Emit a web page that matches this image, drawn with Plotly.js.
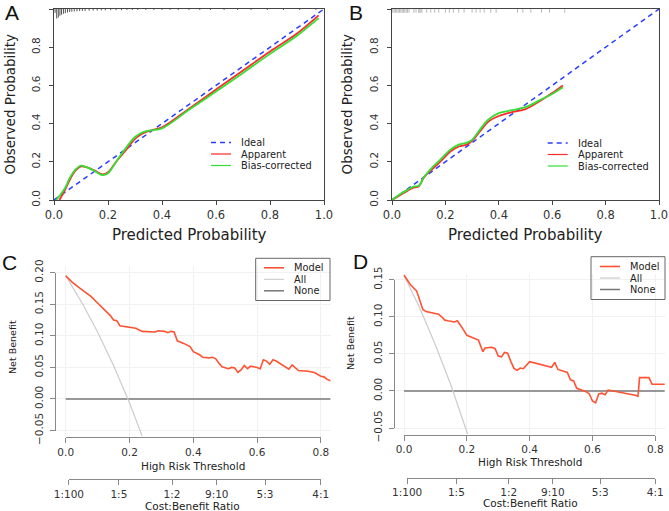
<!DOCTYPE html>
<html>
<head>
<meta charset="utf-8">
<script src="https://cdn.plot.ly/plotly-3.0.1.min.js"></script>
<style>
  html, body { margin: 0; padding: 0; background: #fff; }
  #chart { width: 669px; height: 511px; }
</style>
</head>
<body>
<div id="chart"></div>
<script>
// ---- Calibration, training set (A) ----
const idealX = [0, 1];
const idealY = [0, 1];
const calA_appX = [0.02, 0.04, 0.06, 0.08, 0.10, 0.12, 0.15, 0.18, 0.20, 0.23, 0.26, 0.30, 0.33, 0.36, 0.40, 0.50, 0.60, 0.70, 0.80, 0.90, 0.98];
const calA_appY = [0.0, 0.05, 0.11, 0.155, 0.176, 0.172, 0.155, 0.134, 0.145, 0.2, 0.25, 0.32, 0.35, 0.365, 0.38, 0.478, 0.578, 0.678, 0.778, 0.872, 0.967];
const calA_bcX = [0.008, 0.04, 0.06, 0.08, 0.10, 0.12, 0.15, 0.18, 0.20, 0.23, 0.26, 0.30, 0.33, 0.36, 0.40, 0.50, 0.60, 0.70, 0.80, 0.90, 0.98];
const calA_bcY = [0.0, 0.06, 0.12, 0.16, 0.18, 0.172, 0.152, 0.13, 0.14, 0.2, 0.26, 0.33, 0.355, 0.365, 0.375, 0.472, 0.568, 0.665, 0.765, 0.86, 0.952];
// distribution of predicted probabilities (spike positions and lengths)
const rugA_p = [0.004, 0.010, 0.016, 0.022, 0.028, 0.035, 0.042, 0.05, 0.058, 0.066, 0.075, 0.085, 0.095, 0.105, 0.115, 0.13, 0.145, 0.16, 0.175, 0.19, 0.21, 0.23, 0.25, 0.27, 0.29, 0.31, 0.34, 0.37, 0.40, 0.43, 0.46, 0.5, 0.54, 0.58, 0.63, 0.68, 0.73, 0.79, 0.85, 0.91, 0.97];
const rugA_h = [0.02, 0.05, 0.045, 0.035, 0.03, 0.025, 0.022, 0.018, 0.016, 0.014, 0.013, 0.012, 0.011, 0.01, 0.01, 0.009, 0.008, 0.008, 0.007, 0.007, 0.006, 0.006, 0.006, 0.005, 0.005, 0.005, 0.005, 0.005, 0.005, 0.005, 0.005, 0.005, 0.005, 0.005, 0.005, 0.005, 0.005, 0.005, 0.005, 0.005, 0.005];

// ---- Calibration, validation set (B) ----
const calB_X = [0.0, 0.03, 0.06, 0.08, 0.10, 0.12, 0.15, 0.18, 0.22, 0.25, 0.28, 0.30, 0.33, 0.36, 0.40, 0.45, 0.50, 0.55, 0.60, 0.64];
const calB_appY = [0.0, 0.025, 0.05, 0.065, 0.07, 0.12, 0.16, 0.2, 0.255, 0.28, 0.29, 0.31, 0.36, 0.41, 0.44, 0.46, 0.476, 0.515, 0.56, 0.6];
const calB_bcY = [0.0, 0.03, 0.055, 0.07, 0.075, 0.12, 0.17, 0.21, 0.265, 0.29, 0.3, 0.315, 0.37, 0.42, 0.455, 0.47, 0.486, 0.52, 0.555, 0.59];
const rugB_p = [0.003, 0.008, 0.013, 0.018, 0.023, 0.028, 0.033, 0.038, 0.043, 0.048, 0.053, 0.058, 0.064, 0.082, 0.09, 0.1, 0.104, 0.108, 0.112, 0.13, 0.145, 0.16, 0.175, 0.2, 0.215, 0.23, 0.25, 0.27, 0.3, 0.315, 0.33, 0.345, 0.37, 0.39, 0.47, 0.49, 0.52, 0.56, 0.59, 0.647];
const rugB_h = [0.02, 0.02, 0.02, 0.02, 0.02, 0.02, 0.02, 0.02, 0.02, 0.02, 0.02, 0.02, 0.02, 0.02, 0.02, 0.02, 0.02, 0.02, 0.02, 0.02, 0.02, 0.02, 0.02, 0.02, 0.02, 0.02, 0.02, 0.02, 0.02, 0.02, 0.02, 0.02, 0.02, 0.02, 0.02, 0.02, 0.02, 0.02, 0.02, 0.02];

// ---- Decision curves (C: training, D: validation) ----
const thrC = [0, 0.01, 0.02, 0.04, 0.05, 0.06, 0.08, 0.10, 0.12, 0.14, 0.15, 0.16, 0.17, 0.18, 0.20, 0.22, 0.24, 0.26, 0.28, 0.29, 0.31, 0.32, 0.33, 0.34, 0.35, 0.37, 0.39, 0.40, 0.42, 0.43, 0.45, 0.46, 0.47, 0.48, 0.49, 0.51, 0.52, 0.53, 0.54, 0.55, 0.56, 0.57, 0.58, 0.60, 0.61, 0.62, 0.63, 0.64, 0.65, 0.66, 0.68, 0.69, 0.70, 0.71, 0.72, 0.73, 0.76, 0.78, 0.80, 0.81, 0.82, 0.83];
const nbC = [0.195, 0.19, 0.185, 0.177, 0.173, 0.169, 0.162, 0.152, 0.142, 0.132, 0.125, 0.124, 0.116, 0.115, 0.113, 0.112, 0.107, 0.106, 0.106, 0.108, 0.107, 0.105, 0.107, 0.106, 0.092, 0.088, 0.083, 0.075, 0.07, 0.066, 0.065, 0.066, 0.064, 0.057, 0.051, 0.048, 0.05, 0.049, 0.042, 0.046, 0.053, 0.048, 0.052, 0.05, 0.048, 0.062, 0.06, 0.055, 0.062, 0.06, 0.053, 0.05, 0.047, 0.054, 0.05, 0.045, 0.044, 0.042, 0.036, 0.035, 0.031, 0.029];
const allC_t = [0, 0.05, 0.10, 0.15, 0.20, 0.24];
const allC_nb = [0.195, 0.153, 0.106, 0.053, -0.006, -0.059];

const thrD = [0, 0.01, 0.02, 0.04, 0.05, 0.06, 0.07, 0.09, 0.11, 0.12, 0.13, 0.14, 0.16, 0.17, 0.18, 0.19, 0.20, 0.22, 0.237, 0.251, 0.258, 0.28, 0.29, 0.30, 0.31, 0.32, 0.33, 0.34, 0.35, 0.36, 0.37, 0.38, 0.40, 0.47, 0.48, 0.49, 0.52, 0.53, 0.54, 0.55, 0.58, 0.59, 0.60, 0.61, 0.62, 0.63, 0.64, 0.65, 0.66, 0.74, 0.745, 0.75, 0.78, 0.79, 0.83];
const nbD = [0.156, 0.15, 0.1435, 0.135, 0.122, 0.11, 0.107, 0.105, 0.1035, 0.1, 0.0955, 0.0946, 0.093, 0.0946, 0.089, 0.082, 0.075, 0.071, 0.0686, 0.053, 0.058, 0.059, 0.057, 0.047, 0.046, 0.052, 0.051, 0.04, 0.0305, 0.028, 0.031, 0.03, 0.0395, 0.032, 0.0386, 0.029, 0.025, 0.015, 0.0135, 0.0036, -0.001, -0.004, -0.0135, -0.016, -0.004, -0.003, -0.005, 0.0013, 0.0005, -0.006, -0.0076, 0.018, 0.018, 0.009, 0.009];
const allD_t = [0, 0.05, 0.10, 0.15, 0.20, 0.205];
const allD_nb = [0.156, 0.112, 0.062, 0.007, -0.055, -0.062];

// ---- Tick labels ----
const probTicks = [0, 0.2, 0.4, 0.6, 0.8, 1.0];
const thrTicks = [0, 0.2, 0.4, 0.6, 0.8];
const nbTicksC = [-0.05, 0, 0.05, 0.10, 0.15, 0.20];
const nbTicksD = [-0.05, 0, 0.05, 0.10, 0.15];
const costLabels = ['1:100', '1:5', '1:2', '9:10', '5:3', '4:1'];
// threshold probability that corresponds to each cost:benefit ratio
const costVals = costLabels.map(s => { const [c, b] = s.split(':').map(Number); return c / (c + b); });

// ---- page geometry helpers (pixels -> paper fractions) ----
const W = 669, H = 511;
const fx = p => p / W;
const fy = p => 1 - p / H;

const FONT = 'DejaVu Sans, sans-serif';
const C_RED = '#ff2a2a', C_GREEN = '#33e033', C_BLUE = '#2a3cff';
const C_MODEL = '#ff5233', C_ALL = '#cccccc', C_NONE = '#777777';

// spike segments hanging from the top border
function rug(ps, hs) {
  const x = [], y = [];
  ps.forEach((p, i) => { x.push(p, p, null); y.push(1, 1 - hs[i], null); });
  return { x, y };
}
const rA = rug(rugA_p, rugA_h);
const rB = rug(rugB_p, rugB_h);

// decision-curve panel frames: data region in pixels and data ranges
const panC = { l: 55, r: 331, t: 266.3, b: 436.9, xr: [-0.0336, 0.832], yr: [-0.06, 0.21] };
const panD = { l: 394.3, r: 665, t: 273.8, b: 434, xr: [-0.031, 0.831], yr: [-0.058, 0.158] };
const pxX = (pan, v) => pan.l + (v - pan.xr[0]) / (pan.xr[1] - pan.xr[0]) * (pan.r - pan.l);
const pxY = (pan, v) => pan.b - (v - pan.yr[0]) / (pan.yr[1] - pan.yr[0]) * (pan.b - pan.t);

const traces = [
  // A
  { x: rA.x, y: rA.y, xaxis: 'x', yaxis: 'y', mode: 'lines', line: { color: '#555', width: 1 }, hoverinfo: 'skip' },
  { x: idealX, y: idealY, xaxis: 'x', yaxis: 'y', mode: 'lines', name: 'Ideal', line: { color: C_BLUE, width: 1.5, dash: '5px,4px' } },
  { x: calA_appX, y: calA_appY, xaxis: 'x', yaxis: 'y', mode: 'lines', name: 'Apparent', line: { color: C_RED, width: 1.8, shape: 'spline', smoothing: 1 } },
  { x: calA_bcX, y: calA_bcY, xaxis: 'x', yaxis: 'y', mode: 'lines', name: 'Bias-corrected', line: { color: C_GREEN, width: 1.8, shape: 'spline', smoothing: 1 } },
  // B
  { x: rB.x, y: rB.y, xaxis: 'x2', yaxis: 'y2', mode: 'lines', line: { color: '#bbbbbb', width: 1 }, hoverinfo: 'skip' },
  { x: idealX, y: idealY, xaxis: 'x2', yaxis: 'y2', mode: 'lines', name: 'Ideal', line: { color: C_BLUE, width: 1.5, dash: '5px,4px' } },
  { x: calB_X, y: calB_appY, xaxis: 'x2', yaxis: 'y2', mode: 'lines', name: 'Apparent', line: { color: C_RED, width: 1.8, shape: 'spline', smoothing: 1 } },
  { x: calB_X, y: calB_bcY, xaxis: 'x2', yaxis: 'y2', mode: 'lines', name: 'Bias-corrected', line: { color: C_GREEN, width: 1.8, shape: 'spline', smoothing: 1 } },
  // C
  { x: [thrC[0], thrC[thrC.length - 1]], y: [0, 0], xaxis: 'x3', yaxis: 'y3', mode: 'lines', name: 'None', line: { color: C_NONE, width: 1.5 } },
  { x: allC_t, y: allC_nb, xaxis: 'x3', yaxis: 'y3', mode: 'lines', name: 'All', line: { color: C_ALL, width: 1.2 } },
  { x: thrC, y: nbC, xaxis: 'x3', yaxis: 'y3', mode: 'lines', name: 'Model', line: { color: C_MODEL, width: 1.6 } },
  // D
  { x: [thrD[0], thrD[thrD.length - 1]], y: [0, 0], xaxis: 'x4', yaxis: 'y4', mode: 'lines', name: 'None', line: { color: C_NONE, width: 1.5 } },
  { x: allD_t, y: allD_nb, xaxis: 'x4', yaxis: 'y4', mode: 'lines', name: 'All', line: { color: C_ALL, width: 1.2 } },
  { x: thrD, y: nbD, xaxis: 'x4', yaxis: 'y4', mode: 'lines', name: 'Model', line: { color: C_MODEL, width: 1.6 } },
  // empty traces that carry the standalone axes of C and D
  { x: [], y: [], xaxis: 'x5', yaxis: 'y5', mode: 'lines', hoverinfo: 'skip' },
  { x: [], y: [], xaxis: 'x6', yaxis: 'y6', mode: 'lines', hoverinfo: 'skip' },
  { x: [], y: [], xaxis: 'x7', yaxis: 'y7', mode: 'lines', hoverinfo: 'skip' },
  { x: [], y: [], xaxis: 'x8', yaxis: 'y8', mode: 'lines', hoverinfo: 'skip' }
];
traces.forEach(t => { t.showlegend = false; });

// framed calibration axes
function calX(dom, anchor) {
  return { domain: dom, anchor, range: [0, 1], showline: true, mirror: true, linecolor: '#444', linewidth: 1,
    ticks: 'outside', ticklen: 4, tickcolor: '#444', tickvals: probTicks, tickformat: '.1f',
    tickfont: { family: FONT, size: 11.5, color: '#333' }, showgrid: false, zeroline: false, fixedrange: true };
}
function calY(dom, anchor) {
  return { domain: dom, anchor, range: [0, 1], showline: true, mirror: true, linecolor: '#444', linewidth: 1,
    ticks: 'outside', ticklen: 4, tickcolor: '#444', tickvals: probTicks, tickformat: '.1f', tickangle: -90,
    ticklabelstandoff: 5, tickfont: { family: FONT, size: 10.5, color: '#333' }, showgrid: false, zeroline: false, fixedrange: true };
}
// decision-curve data region: faint grid only
function dataX(pan, anchor) {
  return { domain: [fx(pan.l), fx(pan.r)], anchor, range: pan.xr, showline: false, ticks: '', showticklabels: false,
    tickvals: thrTicks, showgrid: true, gridcolor: '#f1f1f1', gridwidth: 1, zeroline: false, fixedrange: true };
}
function dataY(pan, anchor, ticks) {
  return { domain: [fy(pan.b), fy(pan.t)], anchor, range: pan.yr, showline: false, ticks: '', showticklabels: false,
    tickvals: ticks, showgrid: true, gridcolor: '#f1f1f1', gridwidth: 1, zeroline: false, fixedrange: true };
}
const tickFontS = { family: FONT, size: 10.5, color: '#333' };
// threshold axis spanning only its tick range
function threshAxis(pan) {
  return { domain: [fx(pxX(pan, thrTicks[0])), fx(pxX(pan, thrTicks[thrTicks.length - 1]))],
    range: [thrTicks[0], thrTicks[thrTicks.length - 1]], anchor: 'free', position: fy(pan.b + 0.5),
    showline: true, linecolor: '#888', linewidth: 1, ticks: 'outside', ticklen: 5, tickcolor: '#888',
    tickvals: thrTicks, tickformat: '.1f', tickfont: tickFontS, showgrid: false, zeroline: false, fixedrange: true };
}
function nbAxis(pan, ticks) {
  return { domain: [fy(pxY(pan, ticks[0])), fy(pxY(pan, ticks[ticks.length - 1]))],
    range: [ticks[0], ticks[ticks.length - 1]], anchor: 'free', position: fx(pan.l),
    showline: true, linecolor: '#888', linewidth: 1, ticks: 'outside', ticklen: 5, tickcolor: '#888',
    tickvals: ticks, tickformat: '.2f', tickangle: -90, ticklabelstandoff: 3, tickfont: tickFontS,
    showgrid: false, zeroline: false, fixedrange: true };
}
function costAxis(pan, yPix) {
  const lo = costVals[0], hi = costVals[costVals.length - 1];
  return { domain: [fx(pxX(pan, lo)), fx(pxX(pan, hi))], range: [lo, hi], anchor: 'free', position: fy(yPix),
    showline: true, linecolor: '#888', linewidth: 1, ticks: 'outside', ticklen: 5, tickcolor: '#888',
    tickvals: costVals, ticktext: costLabels, tickfont: tickFontS, showgrid: false, zeroline: false, fixedrange: true };
}
const hiddenY = dom => ({ domain: dom, visible: false, fixedrange: true });

// legends drawn as sample lines with labels
const shapes = [];
const annotations = [];
function legendRow(x0, x1, y, color, dash, width, label, size) {
  shapes.push({ type: 'line', xref: 'paper', yref: 'paper', x0: fx(x0), x1: fx(x1), y0: fy(y), y1: fy(y),
    line: { color, width, dash } });
  annotations.push({ xref: 'paper', yref: 'paper', x: fx(x1 + 9), y: fy(y), xanchor: 'left', yanchor: 'middle',
    text: label, showarrow: false, borderpad: 0, font: { family: FONT, size, color: '#222' } });
}
const LEG = 9.8;
legendRow(211, 231, 142.5, C_BLUE, '5px,4px', 1.5, 'Ideal', LEG);
legendRow(211, 231, 154.0, C_RED, 'solid', 1.2, 'Apparent', LEG);
legendRow(211, 231, 165.5, C_GREEN, 'solid', 1.2, 'Bias-corrected', LEG);
legendRow(547.7, 567.7, 143.0, C_BLUE, '5px,4px', 1.5, 'Ideal', LEG);
legendRow(547.7, 567.7, 154.5, C_RED, 'solid', 1.2, 'Apparent', LEG);
legendRow(547.7, 567.7, 166.0, C_GREEN, 'solid', 1.2, 'Bias-corrected', LEG);

shapes.push({ type: 'rect', xref: 'paper', yref: 'paper', x0: fx(255.7), x1: fx(330), y0: fy(300.5), y1: fy(258.3), line: { color: '#666', width: 1 } });
legendRow(264, 284, 267.8, C_MODEL, 'solid', 1.6, 'Model', LEG);
legendRow(264, 284, 279.3, C_ALL, 'solid', 1.2, 'All', LEG);
legendRow(264, 284, 290.8, C_NONE, 'solid', 1.5, 'None', LEG);
shapes.push({ type: 'rect', xref: 'paper', yref: 'paper', x0: fx(591), x1: fx(665), y0: fy(299.5), y1: fy(256.7), line: { color: '#666', width: 1 } });
legendRow(600, 620, 266.5, C_MODEL, 'solid', 1.6, 'Model', LEG);
legendRow(600, 620, 278.0, C_ALL, 'solid', 1.2, 'All', LEG);
legendRow(600, 620, 289.5, C_NONE, 'solid', 1.5, 'None', LEG);

// axis titles and panel letters
function label(text, x, y, size, angle, family, color) {
  annotations.push({ xref: 'paper', yref: 'paper', x: fx(x), y: fy(y), xanchor: 'center', yanchor: 'middle',
    text, showarrow: false, textangle: angle || 0, font: { family: family || FONT, size, color: color || '#222' } });
}
label('Observed Probability', 10, 104.5, 13.5, -90);
label('Predicted Probability', 189, 235, 15, 0);
label('Observed Probability', 347, 104.5, 13.5, -90);
label('Predicted Probability', 525, 235, 15, 0);
label('Net Benefit', 12, 347, 9.5, -90);
label('High Risk Threshold', 192.7, 465.7, 10.5, 0);
label('Cost:Benefit Ratio', 192.7, 506.2, 10.5, 0);
label('Net Benefit', 350, 343, 9.5, -90);
label('High Risk Threshold', 530, 462.3, 10.5, 0);
label('Cost:Benefit Ratio', 530, 503.3, 10.5, 0);
label('A', 12, 12, 21, 0, 'Liberation Sans, Arial, sans-serif', '#111');
label('B', 356, 12, 21, 0, 'Liberation Sans, Arial, sans-serif', '#111');
label('C', 9, 262, 21, 0, 'Liberation Sans, Arial, sans-serif', '#111');
label('D', 360, 261, 21, 0, 'Liberation Sans, Arial, sans-serif', '#111');

const layout = {
  width: W, height: H,
  margin: { l: 0, r: 0, t: 0, b: 0, pad: 0 },
  paper_bgcolor: '#ffffff', plot_bgcolor: 'rgba(0,0,0,0)',
  showlegend: false,
  font: { family: FONT, color: '#333' },
  xaxis: calX([fx(54), fx(324)], 'y'),
  yaxis: calY([fy(200), fy(9)], 'x'),
  xaxis2: calX([fx(392), fx(659)], 'y2'),
  yaxis2: calY([fy(200), fy(9)], 'x2'),
  xaxis3: dataX(panC, 'y3'),
  yaxis3: dataY(panC, 'x3', nbTicksC),
  xaxis4: dataX(panD, 'y4'),
  yaxis4: dataY(panD, 'x4', nbTicksD),
  xaxis5: threshAxis(panC),
  yaxis5: nbAxis(panC, nbTicksC),
  xaxis6: threshAxis(panD),
  yaxis6: nbAxis(panD, nbTicksD),
  xaxis7: costAxis(panC, 479.3),
  yaxis7: hiddenY([fy(479.3), fy(470)]),
  xaxis8: costAxis(panD, 477.7),
  yaxis8: hiddenY([fy(477.7), fy(468)]),
  shapes, annotations
};

Plotly.newPlot('chart', traces, layout, { staticPlot: true, displayModeBar: false });
</script>
</body>
</html>
